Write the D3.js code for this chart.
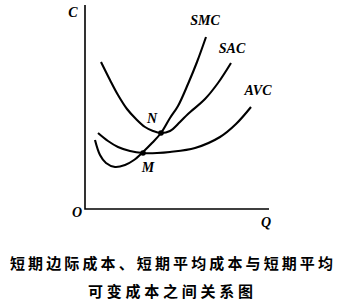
<!DOCTYPE html>
<html>
<head>
<meta charset="utf-8">
<script src="https://cdn.jsdelivr.net/npm/d3@7"></script>
<style>
  body { margin: 0; background: #fff; }
  svg { display: block; }
  .lab { font-family: 'Liberation Serif', 'Times New Roman', serif; font-style: italic; font-weight: bold; }
  .title { font-family: 'Noto Sans CJK SC', sans-serif; font-weight: bold; font-size: 15px; }
</style>
</head>
<body>
<svg id="canvas" width="357" height="305"></svg>
<script>
/* global d3 */

// curve points (Q, C in arbitrary units)
const smc = [[10, 69], [15, 54], [21, 46], [30, 42], [40, 44], [49, 49], [58, 57], [67, 66],
  [76, 76], [85, 91], [93, 103], [103, 125], [112, 147], [121, 172]];
const sac = [[16, 147], [25, 129], [33, 114], [42, 100], [51, 90], [60, 82], [68, 78], [76, 76],
  [85, 78], [95, 87], [103, 95], [120, 110], [133, 126], [146, 146]];
const avc = [[13, 76], [23, 68], [33, 62], [45, 58], [58, 56], [72, 56], [85, 57], [110, 61],
  [135, 72], [151, 85], [166, 102]];
const curveNames = ['SMC', 'SAC', 'AVC'];
const points = [{ name: 'N', q: 76, c: 76 }, { name: 'M', q: 58, c: 56 }];
const qMax = 184;
const cMax = 204;
const titleLines = ['短期边际成本、短期平均成本与短期平均', '可变成本之间关系图'];

const svg = d3.select('#canvas');
const x = d3.scaleLinear().domain([0, qMax]).range([85, 269]);
const y = d3.scaleLinear().domain([0, cMax]).range([209, 5]);

// axes
svg.append('path')
  .attr('d', `M${x(0)},${y(cMax)}V${y(0)}H${x(qMax)}`)
  .attr('fill', 'none')
  .attr('stroke', '#000')
  .attr('stroke-width', 1.6);

const line = d3.line()
  .x(d => x(d[0]))
  .y(d => y(d[1]))
  .curve(d3.curveCatmullRom.alpha(0.5));

const curves = [smc, sac, avc];
svg.selectAll('.curve').data(curves).enter()
  .append('path')
  .attr('class', 'curve')
  .attr('d', line)
  .attr('fill', 'none')
  .attr('stroke', '#000')
  .attr('stroke-width', 2.1);

// curve labels just above the upper end of each curve
const labelOffsets = [[-1, -12], [1, -10], [7, -12]];
svg.selectAll('.cname').data(curveNames).enter()
  .append('text')
  .attr('class', 'lab')
  .attr('x', (d, i) => x(curves[i][curves[i].length - 1][0]) + labelOffsets[i][0])
  .attr('y', (d, i) => y(curves[i][curves[i].length - 1][1]) + labelOffsets[i][1])
  .attr('text-anchor', 'middle')
  .attr('font-size', 14)
  .text(d => d);

svg.selectAll('.pt').data(points).enter()
  .append('circle')
  .attr('cx', d => x(d.q))
  .attr('cy', d => y(d.c))
  .attr('r', 2.8)
  .attr('fill', '#000');

const ptOffsets = { N: [-9, -10], M: [5, 19] };
svg.selectAll('.ptlab').data(points).enter()
  .append('text')
  .attr('class', 'lab')
  .attr('x', d => x(d.q) + ptOffsets[d.name][0])
  .attr('y', d => y(d.c) + ptOffsets[d.name][1])
  .attr('text-anchor', 'middle')
  .attr('font-size', 14)
  .text(d => d.name);

svg.append('text').attr('class', 'lab').attr('x', 73).attr('y', 17)
  .attr('text-anchor', 'middle').attr('font-size', 14).text('C');
svg.append('text').attr('class', 'lab').attr('x', 77).attr('y', 217)
  .attr('text-anchor', 'middle').attr('font-size', 14).text('O');
svg.append('text').attr('class', 'lab').attr('x', 266).attr('y', 227)
  .attr('text-anchor', 'middle').attr('font-size', 14).text('Q');

// caption
const titleBoxes = [[10, 269, 323], [88, 297, 165]];
svg.selectAll('.title').data(titleLines).enter()
  .append('text')
  .attr('class', 'title')
  .attr('x', (d, i) => titleBoxes[i][0])
  .attr('y', (d, i) => titleBoxes[i][1])
  .attr('textLength', (d, i) => titleBoxes[i][2])
  .attr('lengthAdjust', 'spacing')
  .text(d => d);
</script>
</body>
</html>
